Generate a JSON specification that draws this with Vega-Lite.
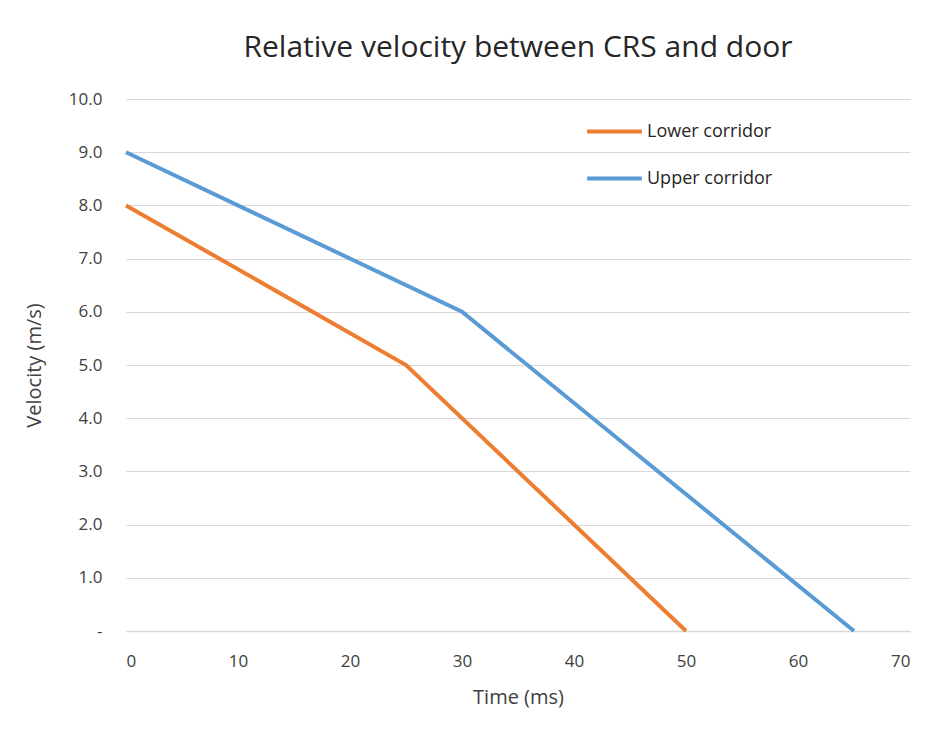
{
  "$schema": "https://vega.github.io/schema/vega-lite/v6.json",
  "width": 784,
  "height": 532,
  "autosize": "none",
  "padding": {"left": 126, "top": 99, "right": 35, "bottom": 121},
  "background": "white",
  "title": {
    "text": "Relative velocity between CRS and door",
    "fontSize": 30,
    "font": "Open Sans",
    "fontWeight": "normal",
    "color": "#262626",
    "anchor": "middle",
    "offset": 27
  },
  "data": {
    "values": [
      {"series": "Lower corridor", "t": 0, "v": 8},
      {"series": "Lower corridor", "t": 25, "v": 5},
      {"series": "Lower corridor", "t": 50, "v": 0},
      {"series": "Upper corridor", "t": 0, "v": 9},
      {"series": "Upper corridor", "t": 30, "v": 6},
      {"series": "Upper corridor", "t": 65, "v": 0}
    ]
  },
  "mark": {"type": "line", "strokeWidth": 4},
  "encoding": {
    "x": {
      "field": "t",
      "type": "quantitative",
      "title": "Time (ms)",
      "scale": {"domain": [0, 70], "nice": false},
      "axis": {
        "values": [0, 10, 20, 30, 40, 50, 60, 70],
        "grid": false,
        "ticks": false,
        "domain": true,
        "domainColor": "#d9d9d9",
        "domainWidth": 1.5,
        "labelFont": "Open Sans",
        "labelFontSize": 17,
        "labelColor": "#404040",
        "labelPadding": 22,
        "titleFont": "Open Sans",
        "titleFontSize": 20,
        "titleFontWeight": "normal",
        "titleColor": "#404040",
        "titlePadding": 18
      }
    },
    "y": {
      "field": "v",
      "type": "quantitative",
      "title": "Velocity (m/s)",
      "scale": {"domain": [0, 10], "nice": false},
      "axis": {
        "values": [0, 1, 2, 3, 4, 5, 6, 7, 8, 9, 10],
        "labelExpr": "datum.value == 0 ? '-' : format(datum.value, '.1f')",
        "grid": true,
        "gridColor": "#d9d9d9",
        "gridWidth": 1.2,
        "ticks": false,
        "domain": false,
        "labelFont": "Open Sans",
        "labelFontSize": 17,
        "labelColor": "#404040",
        "labelPadding": 24,
        "titleFont": "Open Sans",
        "titleFontSize": 20,
        "titleFontWeight": "normal",
        "titleColor": "#404040",
        "titlePadding": 24
      }
    },
    "color": {
      "field": "series",
      "type": "nominal",
      "scale": {"domain": ["Lower corridor", "Upper corridor"], "range": ["#ED7D31", "#5B9BD5"]},
      "legend": {
        "title": null,
        "orient": "none",
        "legendX": 459,
        "legendY": 3,
        "symbolType": "stroke",
        "symbolSize": 3000,
        "symbolStrokeWidth": 4,
        "labelFont": "Open Sans",
        "labelFontSize": 18,
        "labelColor": "#262626",
        "labelOffset": 3,
        "rowPadding": 8
      }
    }
  },
  "config": {"view": {"stroke": null}}
}
